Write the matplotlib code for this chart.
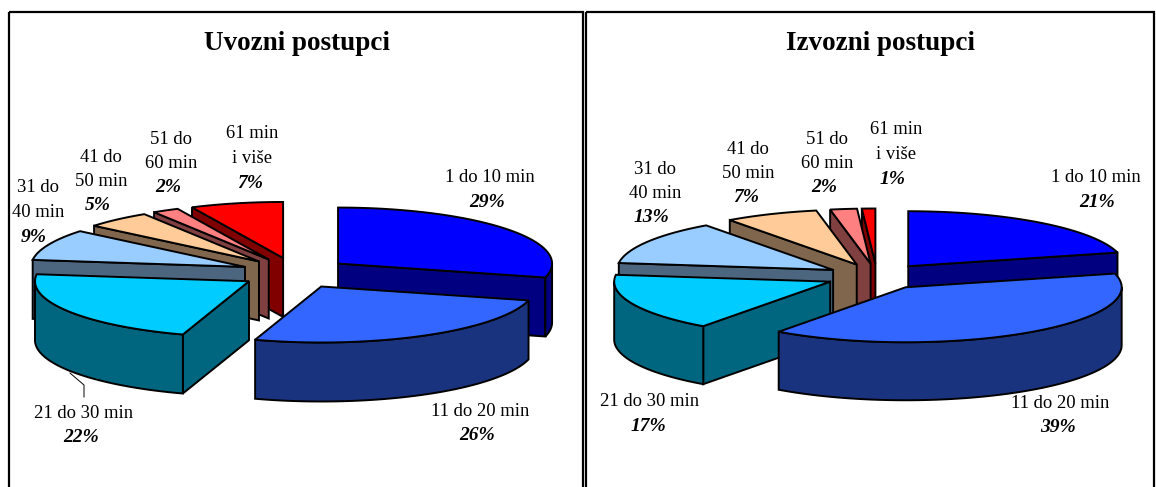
import numpy as np
import matplotlib
matplotlib.use("Agg")
import matplotlib.pyplot as plt
from matplotlib.patches import Polygon, Rectangle

plt.rcParams["font.family"] = ["Liberation Serif", "DejaVu Serif"]

# --- data
categories = [
    "1 do 10 min", "11 do 20 min", "21 do 30 min", "31 do\n40 min",
    "41 do\n50 min", "51 do\n60 min", "61 min\ni više",
]
uvozni_values = [29, 26, 22, 9, 5, 2, 7]
izvozni_values = [21, 39, 17, 13, 7, 2, 1]

# --- styles
top_colors = ["#0000FF", "#3366FF", "#00CCFF", "#99CCFF", "#FFCC99", "#FF8080", "#FF0000"]
side_colors = ["#000080", "#1A337F", "#006680", "#4D6680", "#80664D", "#804040", "#800000"]

uvozni_layout = {
    "title": "Uvozni postupci", "title_x": 297,
    "center": (295, 273), "explode": (54.5, 15.4), "radii": (214, 56), "depth": 59,
    "labels": [(490, 178), (480, 411), (84, 413), (38, 188), (101, 157), (171, 139), (252, 134)],
    "pct_dx": [-3, -3, -3, -4, -3, -3, -2],
}
izvozni_layout = {
    "title": "Izvozni postupci", "title_x": 880,
    "center": (877, 276.5), "explode": (51, 13), "radii": (216, 55), "depth": 58,
    "labels": [(1096, 178), (1060, 403), (650, 402), (655, 169), (748, 149), (827, 139), (896, 130)],
    "pct_dx": [1, -2, -2, -4, -2, -3, -3],
}


def rim_point(tip, radii, angle):
    # angle in degrees, clockwise from 12 o'clock
    a = np.radians(angle)
    return tip[0] + radii[0] * np.sin(a), tip[1] - radii[1] * np.cos(a)


def arc_points(tip, radii, a0, a1):
    n = max(int(abs(a1 - a0)), 2)
    return [rim_point(tip, radii, a) for a in np.linspace(a0, a1, n)]


def shifted(points, depth):
    return [(x, y + depth) for x, y in points]


def draw_slice(ax, tip, a0, a1, radii, depth, top, side):
    wall_from, wall_to = max(a0, 90), min(a1, 270)

    # side faces that look towards the viewer
    for angle, normal in ((a0, a0 - 90), (a1, a1 + 90)):
        if np.cos(np.radians(normal)) < 0:
            edge = [tip, rim_point(tip, radii, angle)]
            ax.add_patch(Polygon(edge + shifted(edge, depth)[::-1],
                                 facecolor=side, edgecolor="black", linewidth=1.4))

    if wall_from < wall_to:
        rim = arc_points(tip, radii, wall_from, wall_to)
        ax.add_patch(Polygon(rim + shifted(rim, depth)[::-1],
                             facecolor=side, edgecolor="black", linewidth=1.4))

    ax.add_patch(Polygon([tip] + arc_points(tip, radii, a0, a1),
                         facecolor=top, edgecolor="black", linewidth=1.4))


def draw_pie(ax, values, layout):
    shares = np.array(values) / np.sum(values)
    ends = np.cumsum(shares) * 360
    starts = ends - shares * 360
    mids = (starts + ends) / 2

    cx, cy = layout["center"]
    ex, ey = layout["explode"]
    tips = [(cx + ex * np.sin(np.radians(m)), cy - ey * np.cos(np.radians(m))) for m in mids]

    # back slices first
    for i in np.argsort([t[1] for t in tips]):
        draw_slice(ax, tips[i], starts[i], ends[i], layout["radii"], layout["depth"],
                   top_colors[i], side_colors[i])

    ax.text(layout["title_x"], 43, layout["title"], ha="center", va="center",
            fontsize=19.5, fontweight="bold")

    for i, (x, y) in enumerate(layout["labels"]):
        lines = categories[i].split("\n")
        for j, line in enumerate(lines):
            ax.text(x, y + j * 24.5, line, ha="center", va="center", fontsize=13.4)
        ax.text(x + layout["pct_dx"][i], y + len(lines) * 24.5, f"{values[i]}%",
                ha="center", va="center", fontsize=14,
                fontweight="bold", fontstyle="italic")


fig = plt.figure(figsize=(11.56, 4.87), dpi=100)
ax = fig.add_axes([0, 0, 1, 1])
ax.set_xlim(0, 1156)
ax.set_ylim(487, 0)
ax.axis("off")

# --- frames, they run off the bottom of the page
ax.add_patch(Rectangle((9, 12), 574, 490, fill=False, edgecolor="black", linewidth=1.6))
ax.add_patch(Rectangle((586, 12), 568, 490, fill=False, edgecolor="black", linewidth=1.6))

draw_pie(ax, uvozni_values, uvozni_layout)
draw_pie(ax, izvozni_values, izvozni_layout)

# leader line of the 21 do 30 min label
ax.plot([70, 84, 84], [373, 385, 397], color="black", linewidth=0.7)

fig.savefig("out.png", dpi=100)
plt.close(fig)
